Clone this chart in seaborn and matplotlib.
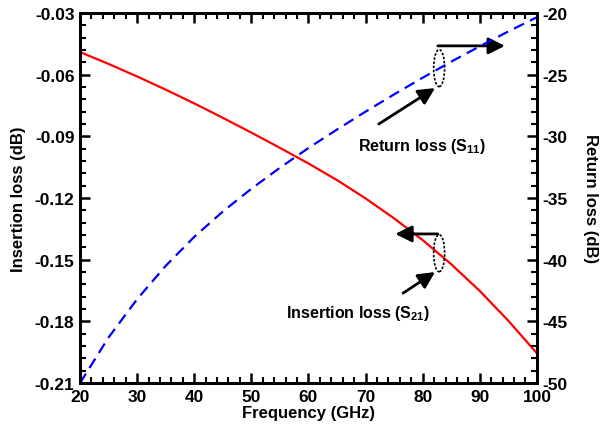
import matplotlib.pyplot as plt
import seaborn as sns
import pandas as pd
import numpy as np
from matplotlib.patches import Ellipse
from matplotlib.ticker import MultipleLocator

sns.set_theme(style='ticks')
plt.rcParams['font.family'] = ['Liberation Sans', 'DejaVu Sans']
plt.rcParams['font.weight'] = 'bold'
plt.rcParams['axes.unicode_minus'] = False
plt.rcParams['text.color'] = 'black'
plt.rcParams['axes.labelcolor'] = 'black'
plt.rcParams['mathtext.fontset'] = 'custom'
plt.rcParams['mathtext.rm'] = 'Liberation Sans:bold'
plt.rcParams['mathtext.bf'] = 'Liberation Sans:bold'

# 데이터
freq = [20, 25, 30, 35, 40, 45, 50, 55, 60, 65, 70, 75, 80, 85, 90, 95, 100]
insertion_loss = [-0.049, -0.0548, -0.0609, -0.0673, -0.0740, -0.0810, -0.0882, -0.0956,
                  -0.1032, -0.1113, -0.1202, -0.1299, -0.1405, -0.1522, -0.1652, -0.1797, -0.1955]
return_loss = [-50.0, -46.3, -43.2, -40.5, -38.15, -36.1, -34.25, -32.55, -30.95, -29.45,
               -28.0, -26.6, -25.25, -23.95, -22.7, -21.5, -20.35]

df = pd.DataFrame({'freq': freq, 'il': insertion_loss, 'rl': return_loss})

fig = plt.figure(figsize=(6.06, 4.35), dpi=100)
ax = fig.add_axes([0.132, 0.117, 0.754, 0.851])
ax2 = ax.twinx()

sns.lineplot(data=df, x='freq', y='il', ax=ax, color='#ff0000', linewidth=1.6)
sns.lineplot(data=df, x='freq', y='rl', ax=ax2, color='#0000ff', linewidth=1.6)
ax2.lines[0].set_linestyle((0, (5, 3)))

ax.set_xlim(20, 100)
ax.set_ylim(-0.21, -0.03)
ax2.set_ylim(-50, -20)

ax.xaxis.set_major_locator(MultipleLocator(10))
ax.xaxis.set_minor_locator(MultipleLocator(2))
ax.yaxis.set_major_locator(MultipleLocator(0.03))
ax.yaxis.set_minor_locator(MultipleLocator(0.006))
ax2.yaxis.set_major_locator(MultipleLocator(5))
ax2.yaxis.set_minor_locator(MultipleLocator(1))
ax.yaxis.set_major_formatter(plt.FuncFormatter(lambda v, p: f'{v:.2f}'))

for a in (ax, ax2):
    for s in a.spines.values():
        s.set_linewidth(2.0)
        s.set_color('black')
        s.set_visible(True)
    a.tick_params(which='major', direction='in', length=7, width=1.8,
                  labelsize=12.5, colors='black', pad=4)
    a.tick_params(which='minor', direction='in', length=4, width=1.5, colors='black')
ax.tick_params(axis='x', which='both', top=True)

ax.set_xlabel('Frequency (GHz)', fontsize=12, fontweight='bold', labelpad=1)
ax.set_ylabel('Insertion loss (dB)', fontsize=12, fontweight='bold', labelpad=6)
ax2.set_ylabel('Return loss (dB)', fontsize=12, fontweight='bold', rotation=270, labelpad=22)

# 주석 (타원 + 화살표)
arrow = dict(arrowstyle='-|>', lw=2, color='black', mutation_scale=25, shrinkA=0, shrinkB=0)
for cy in (0.851, 0.351):
    ax.add_patch(Ellipse((0.786, cy), 0.024, 0.1, transform=ax.transAxes, fill=False,
                         linestyle=(0, (1.5, 1)), linewidth=1.2, edgecolor='black', zorder=5))

ax.annotate('', xy=(0.93, 0.911), xytext=(0.783, 0.911), xycoords='axes fraction',
            arrowprops=arrow)
ax.annotate('', xy=(0.777, 0.797), xytext=(0.654, 0.700), xycoords='axes fraction',
            arrowprops=arrow)
ax.annotate('', xy=(0.69, 0.403), xytext=(0.783, 0.403), xycoords='axes fraction',
            arrowprops=arrow)
ax.annotate('', xy=(0.777, 0.300), xytext=(0.707, 0.243), xycoords='axes fraction',
            arrowprops=arrow)

ax.text(0.748, 0.641, r'Return loss (S$_{\mathbf{11}}$)', transform=ax.transAxes,
        ha='center', va='center', fontsize=11.5, fontweight='bold')
ax.text(0.608, 0.192, r'Insertion loss (S$_{\mathbf{21}}$)', transform=ax.transAxes,
        ha='center', va='center', fontsize=11.5, fontweight='bold')

fig.savefig('out.png', dpi=100)
